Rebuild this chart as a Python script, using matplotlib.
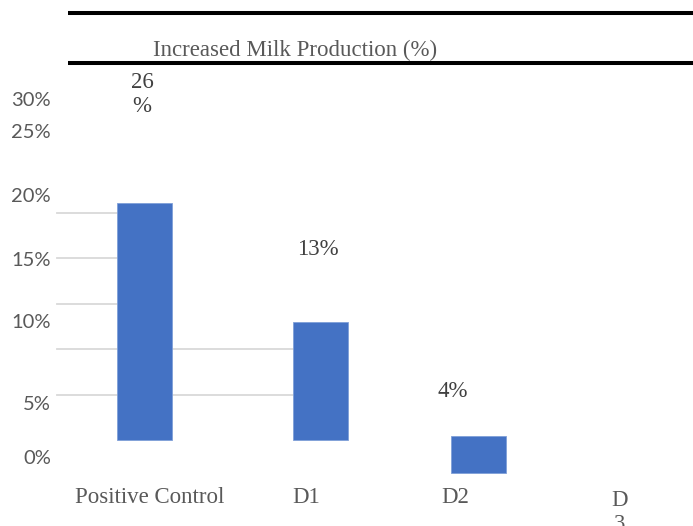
import matplotlib
matplotlib.use("Agg")
import matplotlib.pyplot as plt

# data
categories = ["Positive Control", "D1", "D2", "D3"]
values = [26, 13, 4]
tick_values = [30, 25, 20, 15, 10, 5, 0]
grid_values = [5, 10, 15, 20, 25]
title = "Increased Milk Production (%)"

# layout (pixels of the 693x526 picture)
W, H = 693, 526
zero_px, px_per_pct = 440, 9.1
bar_x = [144, 320, 478]
bar_w = 55
bar_shift = [0, 0, -3.6]          # the D2 bar sits lower in the source
label_x = [142, 318, 453]
label_base = [85, 255, 397]       # baseline of the first line
label_wrap = [True, False, False]
cat_x = [150, 306, 455, 620]
cat_wrap = [False, False, False, True]
tick_y = [101, 132, 197, 260, 322, 405, 458]
grid_end = {5: 293, 10: 293, 15: 117, 20: 117, 25: 117}
line_gap = 27

SERIF = "Liberation Serif"
SANS = "Lato"
GREY = "#595959"


def py(p):
    # picture row -> data value
    return (zero_px - p) / px_per_pct


fig = plt.figure(figsize=(W / 100, H / 100), dpi=100)
ax = fig.add_axes([0, 0, 1, 1])
ax.set_xlim(0, W)
ax.set_ylim(py(H), py(0))
ax.axis("off")

# gridlines, partly hidden like in the source
for g in grid_values:
    ax.plot([57, grid_end[g]], [g, g], color="#d9d9d9", lw=1.3, zorder=1)

ax.bar(bar_x, values, width=bar_w, bottom=bar_shift, color="#4472C4",
       edgecolor="#7f9fd8", linewidth=0.6, zorder=2)

# value labels (baseline alignment uses the last line)
for v, x, b, wrap in zip(values, label_x, label_base, label_wrap):
    txt = f"{v}\n%" if wrap else f"{v}%"
    b = b + line_gap if wrap else b
    ax.text(x, py(b), txt, ha="center", va="baseline", family=SERIF,
            fontsize=16.5, color="#404040", linespacing=1.2)

# y tick labels
for t, y in zip(tick_values, tick_y):
    ax.text(51, py(y), f"{t}%", ha="right", va="center", family=SANS,
            fontsize=14.5, color=GREY)

# category labels
for c, x, wrap in zip(categories, cat_x, cat_wrap):
    txt = c[0] + "\n" + c[1:] if wrap else c
    b = 503 + line_gap if wrap else 503
    ax.text(x, py(b), txt, ha="center", va="baseline", family=SERIF,
            fontsize=16.5, color=GREY, linespacing=1.2)

# title between two heavy rules
ax.text(295, py(56), title, ha="center", va="baseline", family=SERIF,
        fontsize=16.5, color=GREY)
for r in (13, 62.5):
    ax.plot([68, W], [py(r), py(r)], color="black", lw=2.9,
            solid_capstyle="butt")

fig.savefig("out.png", dpi=100)
